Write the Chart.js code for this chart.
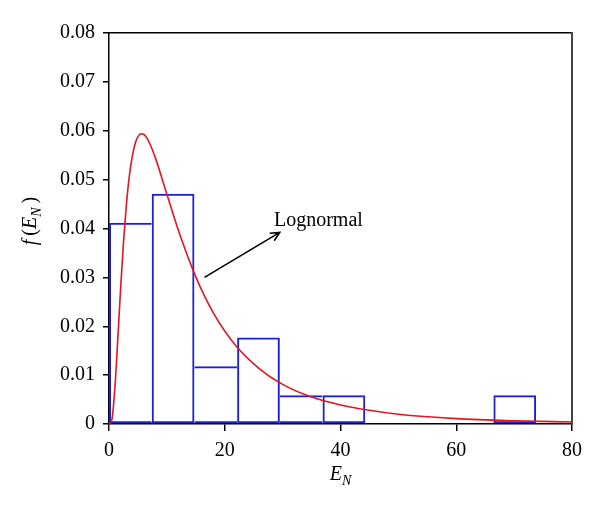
<!DOCTYPE html>
<html>
<head>
<meta charset="utf-8">
<script src="https://cdn.jsdelivr.net/npm/chart.js@4.4.1/dist/chart.umd.min.js"></script>
<style>
  html, body { margin: 0; padding: 0; background: #fff; }
</style>
</head>
<body>
<canvas id="chart" width="600" height="512"></canvas>
<script>
// ── data ──
// histogram: bin centres (width ~7.38) and density
const binCenters = [3.69, 11.07, 18.45, 25.83, 33.21, 40.59, 47.97, 55.35, 62.73, 70.11];
const binDensity = [0.0412, 0.0471, 0.0118, 0.0177, 0.0059, 0.0059, 0, 0, 0, 0.0059];

// fitted lognormal curve
const curveX = [0, 0.5, 1, 1.5, 2, 2.5, 3, 3.5, 4, 4.5, 5, 5.5, 6, 6.5, 7, 8, 10, 12, 15, 18, 22,
                26, 30, 35, 40, 45, 50, 60, 70, 80];
const curveY = [0, 0.0009, 0.0071, 0.017, 0.0276, 0.0371, 0.0448, 0.0506, 0.0546, 0.0573, 0.0588,
                0.0594, 0.0593, 0.0586, 0.0575, 0.0545, 0.047, 0.0396, 0.0301, 0.0228, 0.0159,
                0.0113, 0.0081, 0.0055, 0.0039, 0.0028, 0.002, 0.0011, 0.00065, 0.0004];

// annotation
const labelText = 'Lognormal';
const labelPos = { x: 28.5, y: 0.0406 };
const arrowFrom = { x: 16.5, y: 0.0300 };
const arrowTo = { x: 29.5, y: 0.0392 };

const SERIF = "'Liberation Serif', 'DejaVu Serif', serif";
const BAR_LINE = 2;

function drawParts(ctx, parts, x, y) {
  let total = 0;
  parts.forEach(p => { ctx.font = p.font; p.w = ctx.measureText(p.text).width; total += p.w; });
  let cx = x - total / 2;
  parts.forEach(p => {
    ctx.font = p.font;
    ctx.fillText(p.text, cx, y + (p.dy || 0));
    cx += p.w;
  });
}

// shared edge between two bins is drawn once, by the taller bin
function barBorder(ctx) {
  const i = ctx.dataIndex;
  const h = binDensity[i];
  const prev = i > 0 ? binDensity[i - 1] : -1;
  const next = i < binDensity.length - 1 ? binDensity[i + 1] : -1;
  return {
    top: BAR_LINE,
    bottom: BAR_LINE,
    left: h >= prev ? BAR_LINE : 0,
    right: h > next ? BAR_LINE : 0
  };
}

const textPlugin = {
  id: 'texts',
  afterDatasetsDraw(chart) {
    const { ctx, scales: { x, y } } = chart;
    ctx.save();
    ctx.fillStyle = '#000';
    ctx.strokeStyle = '#000';
    ctx.textBaseline = 'alphabetic';
    ctx.textAlign = 'left';

    // arrow
    const x0 = x.getPixelForValue(arrowFrom.x), y0 = y.getPixelForValue(arrowFrom.y);
    const x1 = x.getPixelForValue(arrowTo.x), y1 = y.getPixelForValue(arrowTo.y);
    ctx.lineWidth = 1.6;
    ctx.beginPath();
    ctx.moveTo(x0, y0);
    ctx.lineTo(x1, y1);
    const ang = Math.atan2(y1 - y0, x1 - x0);
    const head = 10;
    ctx.moveTo(x1 - head * Math.cos(ang - 0.45), y1 - head * Math.sin(ang - 0.45));
    ctx.lineTo(x1, y1);
    ctx.lineTo(x1 - head * Math.cos(ang + 0.45), y1 - head * Math.sin(ang + 0.45));
    ctx.stroke();

    ctx.font = '20px ' + SERIF;
    ctx.fillText(labelText, x.getPixelForValue(labelPos.x), y.getPixelForValue(labelPos.y));
    ctx.restore();
  },
  afterDraw(chart) {
    const { ctx, chartArea } = chart;
    ctx.save();
    ctx.fillStyle = '#000';
    ctx.textBaseline = 'alphabetic';
    ctx.textAlign = 'left';
    const it = 'italic 20px ' + SERIF;
    const up = '20px ' + SERIF;
    const sub = 'italic 14px ' + SERIF;

    // x title  E_N
    drawParts(ctx, [
      { text: 'E', font: it },
      { text: 'N', font: sub, dy: 5 }
    ], (chartArea.left + chartArea.right) / 2, 480);

    // y title  f(E_N)
    ctx.translate(36, 221);
    ctx.rotate(-Math.PI / 2);
    drawParts(ctx, [
      { text: 'f', font: it },
      { text: '\u2009(', font: up },
      { text: 'E', font: it },
      { text: 'N', font: sub, dy: 5 },
      { text: '\u2009)', font: up }
    ], 0, 0);
    ctx.restore();
  }
};

new Chart(document.getElementById('chart'), {
  data: {
    datasets: [
      {
        type: 'line',
        label: 'Lognormal',
        data: curveX.map((v, i) => ({ x: v, y: curveY[i] })),
        borderColor: '#e8141c',
        borderWidth: 1.6,
        pointRadius: 0,
        fill: false,
        cubicInterpolationMode: 'monotone',
        order: 0
      },
      {
        type: 'bar',
        label: 'Histogram',
        data: binCenters.map((v, i) => ({ x: v, y: binDensity[i] })),
        backgroundColor: 'rgba(0,0,0,0)',
        borderColor: '#1f1fd6',
        borderWidth: barBorder,
        borderSkipped: false,
        inflateAmount: 0,
        barPercentage: 1,
        categoryPercentage: 1,
        order: 1
      }
    ]
  },
  options: {
    responsive: false,
    animation: false,
    layout: { padding: { left: 52, right: 28, top: 33, bottom: 41 } },
    plugins: {
      legend: { display: false },
      tooltip: { enabled: false }
    },
    scales: {
      x: {
        type: 'linear',
        position: 'bottom',
        offset: false,
        min: 0,
        max: 80,
        ticks: {
          stepSize: 20,
          color: '#000',
          padding: 8,
          font: { family: SERIF, size: 20 }
        },
        grid: {
          drawOnChartArea: false, offset: false, color: '#000', lineWidth: 1.5,
          tickLength: 7, tickColor: '#000', tickWidth: 1.5
        },
        border: { display: true, color: '#000', width: 1.5 }
      },
      y: {
        type: 'linear',
        position: 'left',
        min: 0,
        max: 0.08,
        ticks: {
          stepSize: 0.01,
          color: '#000',
          padding: 8,
          font: { family: SERIF, size: 20 },
          callback: v => (v === 0 ? '0' : v.toFixed(2))
        },
        grid: {
          drawOnChartArea: false, color: '#000', lineWidth: 1.5,
          tickLength: 6, tickColor: '#000', tickWidth: 1.5
        },
        border: { display: true, color: '#000', width: 1.5 }
      },
      xTop: {
        type: 'linear',
        position: 'top',
        offset: false,
        min: 0,
        max: 80,
        ticks: { display: false },
        grid: { display: false, drawTicks: false },
        border: { display: true, color: '#000', width: 1.5 }
      },
      yRight: {
        type: 'linear',
        position: 'right',
        min: 0,
        max: 0.08,
        ticks: { display: false },
        grid: { display: false, drawTicks: false },
        border: { display: true, color: '#444', width: 2 }
      }
    }
  },
  plugins: [textPlugin]
});
</script>
</body>
</html>
